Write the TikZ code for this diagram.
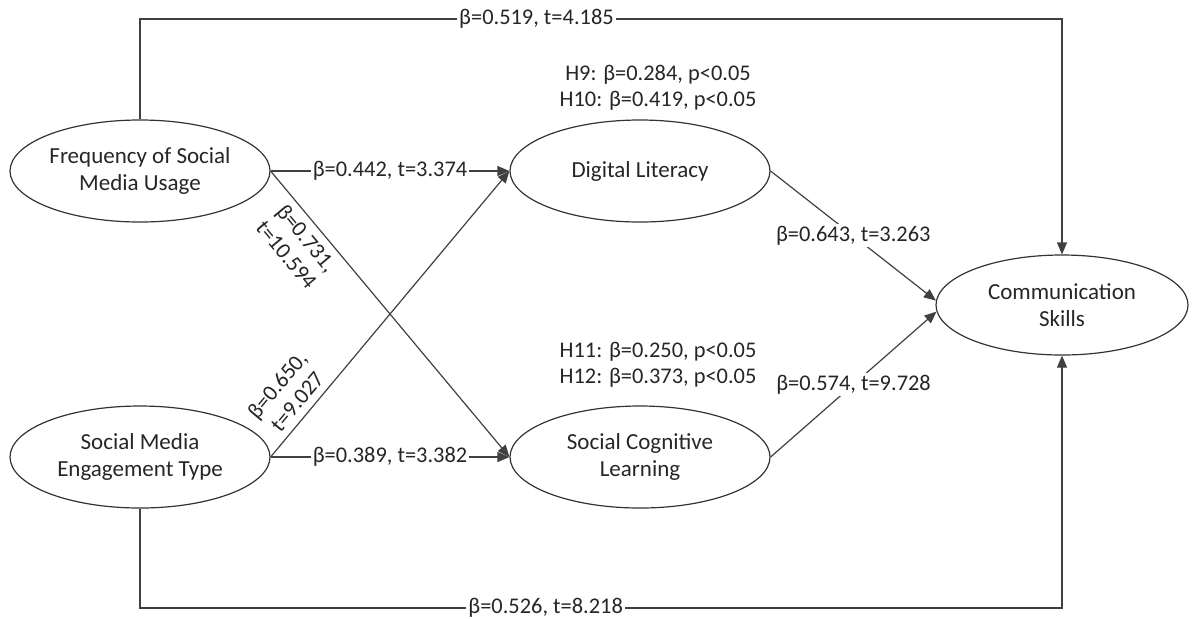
\documentclass[tikz,border=0pt]{standalone}
\usepackage{fontspec}
\setmainfont{Carlito}
\usetikzlibrary{arrows.meta,shapes.geometric}
\begin{document}
\begin{tikzpicture}[x=0.5pt,y=-0.5pt,
    construct/.style={draw=black!80, ellipse, line width=0.6pt, minimum width=130pt,
      minimum height=51pt, inner sep=0pt, align=center,
      font=\fontsize{11.5}{13.5}\selectfont, text=black!85},
    link/.style={draw=black!75, line width=0.6pt, -{Triangle[length=6pt,width=5pt]}},
    coef/.style={fill=white, inner sep=1pt, font=\fontsize{11.2}{13}\selectfont, text=black!85},
    hyp/.style={align=center, font=\fontsize{11.2}{13}\selectfont, text=black!85}]
  \useasboundingbox (0,0) rectangle (1192,618);
  % constructs
  \node[construct] (fsmu) at (140,171) {Frequency of Social\\Media Usage};
  \node[construct] (smet) at (140,457) {Social Media\\Engagement Type};
  \node[construct] (dl) at (640,171) {Digital Literacy};
  \node[construct] (scl) at (640,457) {Social Cognitive\\Learning};
  \node[construct, minimum width=126pt, minimum height=50pt] (cs) at (1062,305) {Communication\\Skills};
  % mediation results
  \node[hyp] (h9) at (658,88) {H9: β=0.284, p<0.05\\H10: β=0.419, p<0.05};
  \node[hyp] (h11) at (658,365) {H11: β=0.250, p<0.05\\H12: β=0.373, p<0.05};
  % direct paths round the outside
  \coordinate (topl) at (fsmu.north |- 0,19);
  \coordinate (topr) at (cs.north |- 0,19);
  \coordinate (botl) at (smet.south |- 0,608);
  \coordinate (botr) at (cs.south |- 0,608);
  \draw[link] (fsmu.north) -- (topl) -- node[coef, pos=0.43] {β=0.519, t=4.185} (topr) -- (cs.north);
  \draw[link] (smet.south) -- (botl) -- node[coef, pos=0.44] {β=0.526, t=8.218} (botr) -- (cs.south);
  % paths to the mediators
  \draw[link] (fsmu.east) -- node[coef] {β=0.442, t=3.374} (dl.west);
  \draw[link] (smet.east) -- node[coef] {β=0.389, t=3.382} (scl.west);
  \draw[link] (fsmu.east) -- node[sloped, below, pos=0.2, hyp, inner sep=3.5pt] {β=0.731,\\t=10.594} (scl.west);
  \draw[link] (smet.east) -- node[sloped, above, pos=0.16, hyp, inner sep=3.5pt] {β=0.650,\\t=9.027} (dl.west);
  % paths to the outcome
  \draw[link] (dl.east) -- node[coef] {β=0.643, t=3.263} (cs.178);
  \draw[link] (scl.east) -- node[coef] {β=0.574, t=9.728} (cs.183);
\end{tikzpicture}
\end{document}
